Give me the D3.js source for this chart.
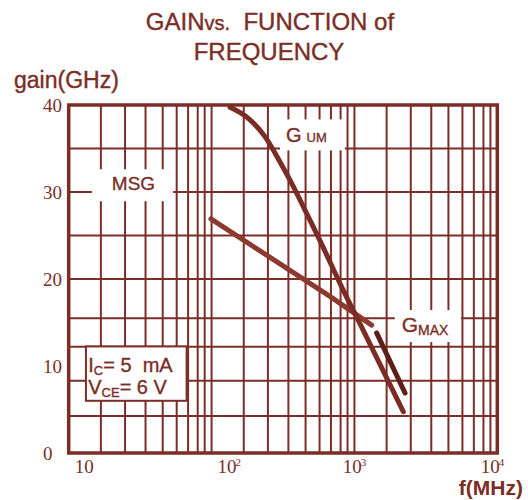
<!DOCTYPE html>
<html><head><meta charset="utf-8">
<script src="https://cdn.jsdelivr.net/npm/d3@7/dist/d3.min.js"></script>
<style>body{margin:0;background:#fff} svg{display:block}</style>
</head><body><svg id="c" width="528" height="500"></svg>
<script>
// ---- data ----
const xDecades = [10, 100, 1000, 10000];
const xDecadeExp = ["", "2", "3", "4"];
// intermediate grid lines per decade, as drawn in the source sheet
const gridMantissas = [1.68, 2.48, 3.45, 4.55, 5.7, 6.85, 8.0, 8.95];
const yTickValues = [0, 10, 20, 30, 40];
const yGridValues = [4.25, 8.3, 12.2, 15.5, 20, 25, 30, 35, 40];

const gumFreq = [134.6, 180.8, 236.6, 309.6, 363.8, 427.6, 574, 836, 1153, 2200];
const gumGain = [39.74, 38.47, 36.36, 33.1, 31.0, 28.7, 24.4, 18.7, 14.1, 4.75];
const msgFreq = [99, 354, 674, 1320];
const msgGain = [26.9, 21.0, 18.0, 14.7];
const gmaxFreq = [1430, 2260];
const gmaxGain = [13.8, 6.9];

const C = "#7a2e27";
const SANS = "Liberation Sans, Arial, sans-serif";
const SERIF = "Liberation Serif, Times New Roman, serif";
const svg = d3.select("#c");
const L = 68.7, R = 497.3, T = 105, B = 453;
const x = d3.scaleLog().domain([10, 10000]).range([L, R]);
const y = d3.scaleLinear().domain([0, 40]).range([B, T]);

// grid
const vGrid = [];
xDecades.slice(0, 3).forEach(d => gridMantissas.forEach(m => vGrid.push(d * m)));
xDecades.forEach(d => vGrid.push(d));
const g = svg.append("g");
g.selectAll("line.v").data(vGrid).join("line").attr("class", "v")
  .attr("x1", d => x(d)).attr("x2", d => x(d)).attr("y1", T).attr("y2", B)
  .attr("stroke", C).attr("stroke-width", 2);
g.selectAll("line.h").data(yGridValues).join("line").attr("class", "h")
  .attr("x1", L).attr("x2", R).attr("y1", d => y(d)).attr("y2", d => y(d))
  .attr("stroke", C).attr("stroke-width", 2);

// curves
function curve(fs, gs, color, w, c) {
  const line = d3.line().x(d => x(d[0])).y(d => y(d[1])).curve(c || d3.curveLinear);
  svg.append("path").datum(fs.map((f, i) => [f, gs[i]]))
    .attr("d", line)
    .attr("fill", "none").attr("stroke", color).attr("stroke-width", w)
    .attr("stroke-linecap", "round");
}

// annotation labels with white backgrounds
function label(f, gv, parts, pad, anchor) {
  const t = svg.append("text").attr("x", x(f)).attr("y", y(gv))
    .attr("fill", C).attr("stroke", C).attr("stroke-width", 0.35)
    .attr("font-family", SANS).attr("text-anchor", anchor || "start");
  parts.forEach(p => t.append("tspan").text(p.t).attr("font-size", p.s)
    .attr("dy", p.dy || 0).attr("dx", p.dx || 0));
  const bb = t.node().getBBox();
  svg.insert("rect", "text").attr("x", bb.x - pad[0]).attr("y", bb.y - pad[2])
    .attr("width", bb.width + pad[0] + pad[1]).attr("height", bb.height + pad[2] + pad[3])
    .attr("fill", "#fff");
  return t;
}
label(28.4, 30.2, [{t: "MSG", s: 19}], [20, 18, 4, 7], "middle");
label(332, 35.7, [{t: "G", s: 20}, {t: "UM", s: 13, dx: 5}], [6, 18, 5, 4]);
label(2143, 13.9, [{t: "G", s: 21}, {t: "MAX", s: 14, dy: 3}], [7, 12, 3, 4]);

curve(msgFreq, msgGain, "#8c3a30", 5);
curve(gumFreq, gumGain, "#7a2c25", 5, d3.curveMonotoneX);
curve(gmaxFreq, gmaxGain, "#5e1f1a", 5);

// frame
svg.append("rect").attr("x", L).attr("y", T).attr("width", R - L).attr("height", B - T)
  .attr("fill", "none").attr("stroke", C).attr("stroke-width", 3.5);

// condition box
const bx0 = x(13.2), bx1 = x(66.9), by0 = y(12.25), by1 = y(6.0);
svg.append("rect").attr("x", bx0).attr("y", by0).attr("width", bx1 - bx0).attr("height", by1 - by0)
  .attr("fill", "#fff").attr("stroke", C).attr("stroke-width", 2);
const cond = [
  [{t: "I", s: 20}, {t: "C", s: 13, dy: 3}, {t: "= 5  mA", s: 20, dy: -3}],
  [{t: "V", s: 20}, {t: "CE", s: 13, dy: 3}, {t: "= 6 V", s: 20, dy: -3}]
];
[9.34, 6.78].forEach((gv, i) => {
  const t = svg.append("text").attr("x", x(13.7)).attr("y", y(gv)).attr("fill", C)
    .attr("stroke", C).attr("stroke-width", 0.35)
    .attr("font-family", SANS).style("white-space", "pre");
  cond[i].forEach(p => t.append("tspan").text(p.t).attr("font-size", p.s).attr("dy", p.dy || 0));
});

// y tick labels
svg.selectAll("text.yt").data(yTickValues).join("text").attr("class", "yt")
  .attr("x", 43).attr("y", d => y(d)).attr("dominant-baseline", "central")
  .attr("font-family", SERIF).attr("font-size", 19)
  .attr("fill", C).text(d => d);

// x tick labels
xDecades.forEach((d, i) => {
  const anchor = i < 2 ? "start" : (i === 3 ? "end" : "middle");
  const dx = i < 2 ? 6 : (i === 3 ? 7 : 0);
  const t = svg.append("text").attr("x", x(d) + dx).attr("y", 473)
    .attr("text-anchor", anchor).attr("fill", C)
    .attr("font-family", SERIF).attr("font-size", 19);
  t.append("tspan").text("10");
  if (xDecadeExp[i]) t.append("tspan").text(xDecadeExp[i]).attr("font-size", 11).attr("dy", -7).attr("dx", -1);
});

// titles
const title = svg.append("text").attr("x", 270).attr("y", 29.5).attr("text-anchor", "middle")
  .attr("fill", C).attr("stroke", C).attr("stroke-width", 0.4)
  .attr("font-family", SANS).style("white-space", "pre");
title.append("tspan").text("GAIN").attr("font-size", 24);
title.append("tspan").text("vs.").attr("font-size", 20);
title.append("tspan").text("  FUNCTION of").attr("font-size", 24);
svg.append("text").attr("x", 269).attr("y", 60).attr("text-anchor", "middle")
  .attr("fill", C).attr("stroke", C).attr("stroke-width", 0.4)
  .attr("font-family", SANS).attr("font-size", 24)
  .text("FREQUENCY");
svg.append("text").attr("x", 14).attr("y", 88).attr("fill", C)
  .attr("stroke", C).attr("stroke-width", 0.4)
  .attr("font-family", SANS).attr("font-size", 23)
  .text("gain(GHz)");
svg.append("text").attr("x", 523).attr("y", 495).attr("text-anchor", "end").attr("fill", C)
  .attr("font-family", SANS).attr("font-size", 21)
  .attr("font-weight", "bold").text("f(MHz)");
</script></body></html>
